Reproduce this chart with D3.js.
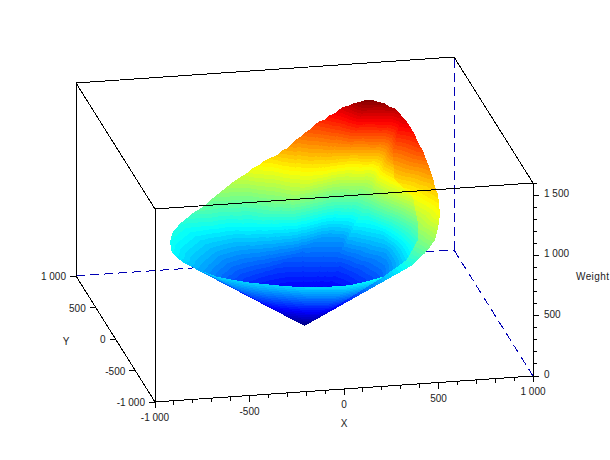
<!DOCTYPE html>
<html>
<head>
<meta charset="utf-8">
<script src="https://cdn.jsdelivr.net/npm/d3@7"></script>
<style>
  html, body { margin: 0; padding: 0; background: #fff; }
  text { font-family: "Liberation Sans", Arial, sans-serif; font-size: 10px; fill: #222; }
</style>
</head>
<body>
<div id="root"></div>
<script>
// axis ticks
const xTicks = [-1000, -500, 0, 500, 1000];
const xTickLabels = ["-1 000", "-500", "0", "500", "1 000"];
const xMinor = [-900, -800, -700, -600, -400, -300, -200, -100, 100, 200, 300, 400, 600, 700, 800, 900];
const yTicks = [-1000, -500, 0, 500, 1000];
const yTickLabels = ["-1 000", "-500", "0", "500", "1 000"];
const zTicks = [0, 500, 1000, 1500];
const zTickLabels = ["0", "500", "1 000", "1 500"];
const zMinor = [100, 200, 300, 400, 600, 700, 800, 900, 1100, 1200, 1300, 1400, 1600];

// surface rims, every generator runs from the apex (0, 0, 0) to a rim point
// outer right wall, seen past the inner fold
const outerX = [577, 600, 620, 634, 644, 650, 657, 667, 675, 680, 684, 689, 685, 689, 681, 667, 652, 631, 614, 586, 562, 529, 495];
const outerY = [446, 405, 372, 339, 308, 260, 218, 189, 153, 126, 71, 44, -25, -84, -145, -238, -287, -335, -366, -373, -364, -366, -378];
const outerZ = [1504, 1465, 1430, 1396, 1370, 1337, 1308, 1280, 1232, 1204, 1166, 1130, 1092, 1064, 1022, 989, 934, 886, 838, 787, 735, 690, 650];
// inside of the bowl, left rim over the peak and down the fold
const wallX = [-582, -622, -647, -672, -652, -621, -556, -518, -476, -422, -360, -303, -242, -166, -135, -102, -76, -43, -14, 21, 47, 81, 115, 147, 178, 212, 240, 270, 297, 327, 351, 374, 397, 422, 454, 486, 516, 546, 577, 600, 540, 532, 600, 606, 586, 517, 411];
const wallY = [28, 76, 132, 162, 281, 379, 493, 523, 543, 551, 593, 613, 652, 663, 660, 662, 663, 666, 654, 645, 643, 652, 665, 666, 662, 671, 655, 647, 624, 615, 577, 539, 493, 462, 462, 463, 457, 448, 446, 405, 341, 283, 124, 26, -67, -112, -29];
const wallZ = [540, 550, 565, 610, 620, 640, 650, 670, 705, 745, 790, 840, 880, 940, 980, 1000, 1030, 1050, 1070, 1120, 1135, 1185, 1207, 1245, 1277, 1318, 1340, 1382, 1408, 1459, 1485, 1527, 1557, 1587, 1584, 1563, 1555, 1523, 1504, 1465, 1223, 1022, 932, 775, 685, 550, 380];
// height on the same generators, part way up the wall
const wallLowZ = [171, 185, 199, 214, 224, 240, 246, 254, 259, 265, 276, 288, 298, 313, 320, 327, 335, 341, 343, 356, 360, 375, 376, 394, 402, 414, 416, 426, 428, 442, 442, 449, 451, 452, 456, 451, 448, 440, 435, 423, 359, 295, 274, 240, 211, 174, 132];
const wallMidZ = [345, 372, 399, 430, 449, 467, 472, 481, 495, 511, 548, 592, 628, 681, 707, 727, 748, 763, 778, 811, 827, 861, 880, 903, 922, 943, 949, 972, 978, 1002, 1004, 1013, 1018, 1023, 1024, 1015, 1011, 986, 969, 944, 768, 625, 553, 454, 406, 335, 252];
const wallRings = [0, 0.4, 0.72, 1];
// outside of the cone under the front rim
const frontX = [-582, -537, -492, -418, -342, -183, -73, 43, 142, 231, 323, 406, 478, 495];
const frontY = [28, -52, -130, -198, -256, -342, -405, -438, -473, -468, -452, -391, -308, -378];
const frontZ = [540, 530, 530, 530, 530, 530, 540, 550, 570, 590, 610, 630, 640, 650];

const jetStops = [0, 0.125, 0.375, 0.625, 0.875, 1];
const jetColors = ["#00007f", "#0000ff", "#00ffff", "#ffff00", "#ff0000", "#7f0000"];
const zMax = 1590;
const bandCount = 64;

const w = 610;
const h = 460;

const svg = d3.select("#root")
  .append("svg")
  .attr("width", w)
  .attr("height", h)
  .style("display", "block");

// oblique view of the box, one scale for each data axis on each screen axis
const xToH = d3.scaleLinear().domain([-1000, 1000]).range([-189, 189]);
const yToH = d3.scaleLinear().domain([-1000, 1000]).range([39.5, -39.5]);
const xToV = d3.scaleLinear().domain([-1000, 1000]).range([13, -13]);
const yToV = d3.scaleLinear().domain([-1000, 1000]).range([63, -63]);
const zToV = d3.scaleLinear().domain([0, 1600]).range([0, -193]);

function px(x, y) { return 304.5 + xToH(x) + yToH(y); }
function py(x, y, z) { return 326 + xToV(x) + yToV(y) + zToV(z); }

const jet = d3.scaleLinear().domain(jetStops).range(jetColors);
const band = d3.scaleLinear().domain([0, bandCount]).range([0, zMax]);

function edge(group, a, b, color, dash) {
  group.append("line")
    .attr("x1", px(a[0], a[1])).attr("y1", py(a[0], a[1], a[2]))
    .attr("x2", px(b[0], b[1])).attr("y2", py(b[0], b[1], b[2]))
    .attr("stroke", color)
    .attr("stroke-dasharray", dash)
    .attr("shape-rendering", "crispEdges");
}

// hidden box edges go under the surface
const back = svg.append("g");
const blue = "#0000b4";
edge(back, [-1000, 1000, 0], [1000, 1000, 0], blue, "9 5");
edge(back, [1000, 1000, 0], [1000, -1000, 0], blue, "9 5");
edge(back, [1000, 1000, 0], [1000, 1000, 1600], blue, "9 5");

// keep the part of a polygon on one side of a colour level, vertices are [x, y, z, level]
function clipLevel(poly, level, above) {
  const out = [];
  poly.forEach((p, i) => {
    const q = poly[(i + 1) % poly.length];
    const pIn = above ? p[3] >= level : p[3] <= level;
    const qIn = above ? q[3] >= level : q[3] <= level;
    if (pIn) out.push(p);
    if (pIn !== qIn) {
      const t = (level - p[3]) / (q[3] - p[3]);
      out.push(p.map((v, k) => v + t * (q[k] - v)));
    }
  });
  return out;
}

// rings: part of the way along each generator, levels: one height list per ring
function fanBands(xs, ys, zs, rings, levels) {
  const polys = [];
  const vertex = (r, i) => [xs[i] * rings[r], ys[i] * rings[r], zs[i] * rings[r], levels[r][i]];
  function addBands(tri) {
    for (let b = 0; b < bandCount; b++) {
      let poly = clipLevel(tri, band(b), true);
      if (poly.length) poly = clipLevel(poly, band(b + 1), false);
      if (poly.length > 2) polys.push({ poly: poly, color: jet((b + 0.5) / bandCount) });
    }
  }
  for (let i = 0; i < xs.length - 1; i++) {
    for (let r = 0; r < rings.length - 1; r++) {
      addBands([vertex(r, i), vertex(r + 1, i), vertex(r + 1, i + 1)]);
      if (r > 0) addBands([vertex(r, i), vertex(r + 1, i + 1), vertex(r, i + 1)]);
    }
  }
  return polys;
}

const line = d3.line()
  .x(p => px(p[0], p[1]))
  .y(p => py(p[0], p[1], p[2]))
  .curve(d3.curveLinearClosed);

const apexLevel = xs => xs.map(() => 0);

[
  fanBands(outerX, outerY, outerZ, [0, 1], [apexLevel(outerX), outerZ]),
  fanBands(wallX, wallY, wallZ, wallRings, [apexLevel(wallX), wallLowZ, wallMidZ, wallZ]),
  fanBands(frontX, frontY, frontZ, [0, 1], [apexLevel(frontX), frontZ])
].forEach(polys => {
  svg.append("g")
    .selectAll("path")
    .data(polys)
    .join("path")
    .attr("d", d => line(d.poly))
    .attr("fill", d => d.color)
    .attr("shape-rendering", "crispEdges");
});

// front box edges and axes
const box = svg.append("g");
edge(box, [-1000, 1000, 1600], [1000, 1000, 1600], "#000");
edge(box, [1000, 1000, 1600], [1000, -1000, 1600], "#000");
edge(box, [1000, -1000, 1600], [-1000, -1000, 1600], "#000");
edge(box, [-1000, -1000, 1600], [-1000, 1000, 1600], "#000");
edge(box, [-1000, 1000, 1600], [-1000, 1000, 0], "#000");
edge(box, [-1000, -1000, 1600], [-1000, -1000, 0], "#000");
edge(box, [1000, -1000, 1600], [1000, -1000, 0], "#000");
edge(box, [-1000, -1000, 0], [1000, -1000, 0], "#000");
edge(box, [-1000, -1000, 0], [-1000, 1000, 0], "#000");

function tick(x1, y1, x2, y2) {
  box.append("line")
    .attr("x1", x1).attr("y1", y1)
    .attr("x2", x2).attr("y2", y2)
    .attr("stroke", "#000")
    .attr("shape-rendering", "crispEdges");
}

xTicks.forEach((x, i) => {
  const sx = px(x, -1000);
  const sy = py(x, -1000, 0);
  tick(sx, sy, sx, sy + 6);
  box.append("text").attr("x", sx).attr("y", sy + 19).attr("text-anchor", "middle").text(xTickLabels[i]);
});
xMinor.forEach(x => {
  const sx = px(x, -1000);
  const sy = py(x, -1000, 0);
  tick(sx, sy, sx, sy + 4);
});
yTicks.forEach((y, i) => {
  const sx = px(-1000, y);
  const sy = py(-1000, y, 0);
  tick(sx, sy, sx - 6, sy);
  box.append("text").attr("x", sx - 10).attr("y", sy + 4).attr("text-anchor", "end").text(yTickLabels[i]);
});
zTicks.forEach((z, i) => {
  const sx = px(1000, -1000);
  const sy = py(1000, -1000, z);
  tick(sx, sy, sx + 6, sy);
  box.append("text").attr("x", sx + 11).attr("y", sy + 2).text(zTickLabels[i]);
});
zMinor.forEach(z => {
  const sx = px(1000, -1000);
  const sy = py(1000, -1000, z);
  tick(sx, sy, sx + 4, sy);
});

svg.append("text").attr("x", 344).attr("y", 427).attr("text-anchor", "middle").text("X");
svg.append("text").attr("x", 66).attr("y", 345).attr("text-anchor", "middle").text("Y");
svg.append("text").attr("x", 576).attr("y", 280).style("letter-spacing", "0.4px").text("Weight");
</script>
</body>
</html>
